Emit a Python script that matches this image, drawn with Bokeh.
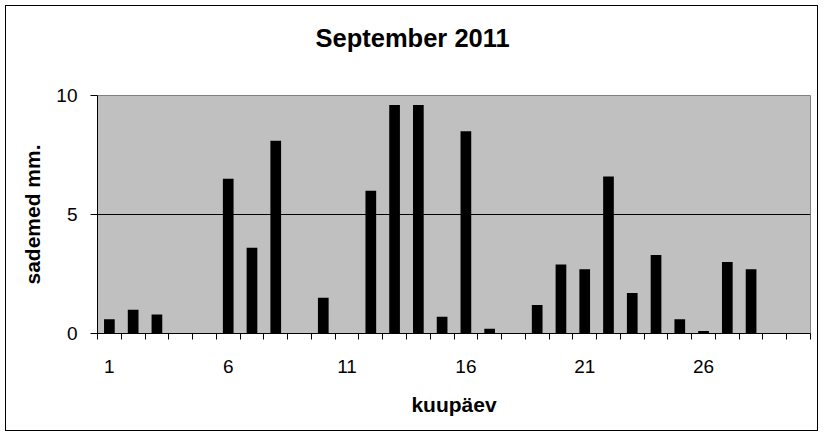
from bokeh.plotting import figure
from bokeh.models import FixedTicker, Range1d, Title, ColumnDataSource
from bokeh.embed import file_html
from bokeh.resources import INLINE

days = list(range(1, 31))
rain = [0.6, 1.0, 0.8, 0, 0, 6.5, 3.6, 8.1, 0, 1.5,
        0, 6.0, 9.6, 9.6, 0.7, 8.5, 0.2, 0, 1.2, 2.9,
        2.7, 6.6, 1.7, 3.3, 0.6, 0.1, 3.0, 2.7, 0, 0]
x_tick_labels = [1, 6, 11, 16, 21, 26]
y_ticks = [0, 5, 10]
title_text = "September 2011"

FONT = "Liberation Sans"

src = ColumnDataSource(data=dict(day=days, rain=rain))

p = figure(width=813, height=426, output_backend="svg", toolbar_location=None,
           x_range=Range1d(0.5, len(days) + 0.5), y_range=Range1d(0, 10),
           min_border_left=91, min_border_right=9, min_border_top=89, min_border_bottom=99)

p.title = Title(text=title_text, align="left", offset=218, standoff=0,
                padding=dict(left=0, right=0, top=0, bottom=44),
                text_font=FONT, text_font_size="25.5px", text_font_style="bold",
                text_color="black")

p.background_fill_color = "#C0C0C0"
p.border_fill_color = "white"
p.outline_line_color = "#808080"
p.outline_line_width = 1
p.styles = {"border": "1px solid black", "margin-left": "5px", "margin-top": "5px"}

p.vbar(x="day", top="rain", width=0.45, bottom=0, source=src,
       fill_color="black", line_color=None)

# x axis
xa = p.xaxis[0]
xa.ticker = FixedTicker(ticks=x_tick_labels,
                        minor_ticks=[d - 0.5 for d in days] + [days[-1] + 0.5])
xa.major_tick_out = 0
xa.major_tick_in = 0
xa.minor_tick_out = 6
xa.minor_tick_in = 0
xa.minor_tick_line_color = "black"
xa.axis_line_color = "black"
xa.major_label_text_font = FONT
xa.major_label_text_font_size = "19px"
xa.major_label_text_color = "black"
xa.major_label_standoff = 20
xa.axis_label = "kuupäev"
xa.axis_label_text_font = FONT
xa.axis_label_text_font_size = "21px"
xa.axis_label_text_font_style = "bold"
xa.axis_label_text_color = "black"
xa.axis_label_standoff = 17

# y axis
ya = p.yaxis[0]
ya.ticker = FixedTicker(ticks=y_ticks, minor_ticks=[])
ya.major_tick_out = 7
ya.major_tick_in = 0
ya.major_tick_line_color = "black"
ya.axis_line_color = "black"
ya.major_label_text_font = FONT
ya.major_label_text_font_size = "19px"
ya.major_label_text_color = "black"
ya.major_label_standoff = 13
ya.axis_label = "sademed mm."
ya.axis_label_text_font = FONT
ya.axis_label_text_font_size = "21px"
ya.axis_label_text_font_style = "bold"
ya.axis_label_text_color = "black"
ya.axis_label_standoff = 9

p.xgrid.visible = False
p.ygrid.ticker = FixedTicker(ticks=[5])
p.ygrid.grid_line_color = "black"
p.ygrid.grid_line_alpha = 1.0

open("out.html", "w").write(file_html(p, INLINE))
